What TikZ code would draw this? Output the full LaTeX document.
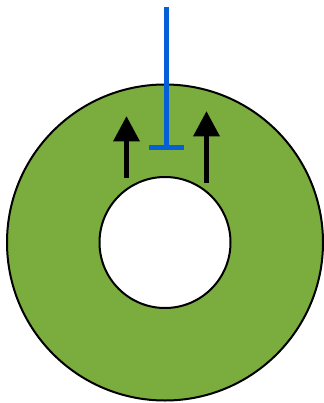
\documentclass[tikz,border=0pt]{standalone}
\usetikzlibrary{arrows.meta}
\definecolor{ringgreen}{RGB}{122,172,62}
\definecolor{inhblue}{RGB}{5,95,215}

\begin{document}
\begin{tikzpicture}[x=0.75pt,y=-0.75pt,
  ring/.style={draw=black,line width=1.5pt,fill=ringgreen,even odd rule},
  push/.style={draw=black,line width=4pt,-{Triangle[length=19pt,width=19pt]}},
  block/.style={draw=inhblue,line width=3.75pt,-{Bar[width=26pt]}}]

\useasboundingbox (0,0) rectangle (324,403);

\coordinate (centre) at (165,242.5);
\path[ring] (centre) circle[radius=158] (centre) circle[radius=65.5];

\coordinate (lbase) at (126.5,178);
\coordinate (ltip) at (126.5,116);
\coordinate (rbase) at (206.5,183);
\coordinate (rtip) at (206.5,111);
\draw[push] (lbase) -- (ltip);
\draw[push] (rbase) -- (rtip);

\coordinate (btop) at (166.5,7);
\coordinate (bend) at (166.5,150);
\draw[block] (btop) -- (bend);
\end{tikzpicture}
\end{document}
